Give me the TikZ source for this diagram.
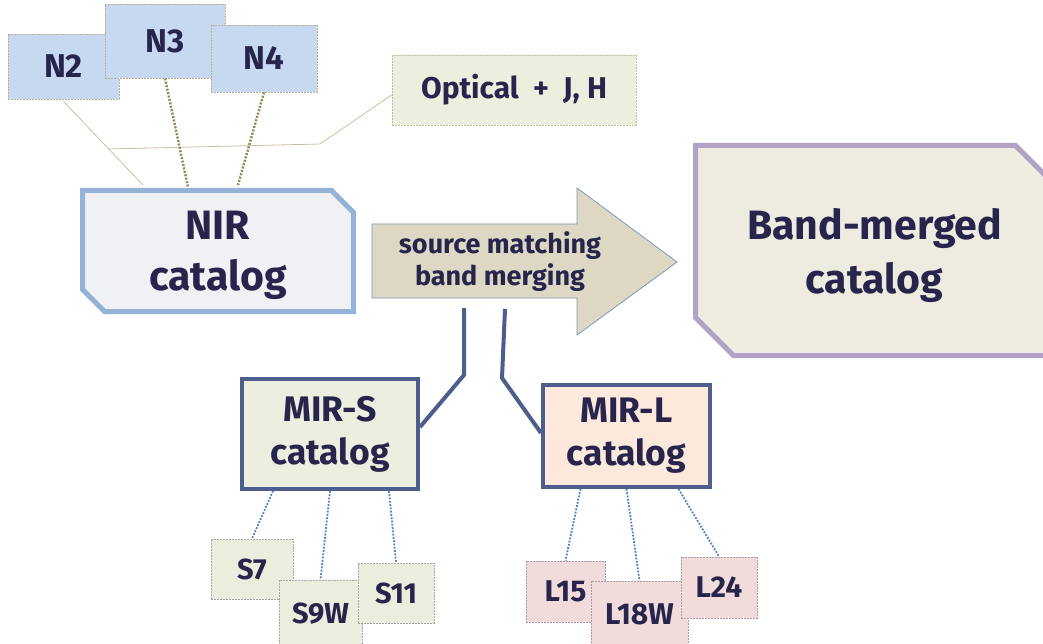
\documentclass[tikz,border=0pt]{standalone}
\usepackage{fontspec}
\setmainfont{Fira Sans}
\usetikzlibrary{shapes.misc}

\definecolor{ink}{RGB}{40,37,77}
\definecolor{nfill}{RGB}{198,217,241}
\definecolor{nedge}{RGB}{185,178,150}
\definecolor{optfill}{RGB}{235,239,221}
\definecolor{optedge}{RGB}{196,189,151}
\definecolor{nirfill}{RGB}{239,241,244}
\definecolor{niredge}{RGB}{149,179,215}
\definecolor{arrowfill}{RGB}{221,216,196}
\definecolor{arrowedge}{RGB}{132,151,176}
\definecolor{bandfill}{RGB}{238,236,225}
\definecolor{bandedge}{RGB}{179,162,199}
\definecolor{mirsfill}{RGB}{236,239,223}
\definecolor{mirlfill}{RGB}{253,233,219}
\definecolor{miredge}{RGB}{77,94,140}
\definecolor{sfill}{RGB}{235,238,220}
\definecolor{sedge}{RGB}{166,166,166}
\definecolor{lfill}{RGB}{242,220,219}
\definecolor{ledge}{RGB}{168,156,168}
\definecolor{tanline}{RGB}{201,191,160}
\definecolor{dotbrown}{RGB}{148,138,84}
\definecolor{dotblue}{RGB}{79,129,189}

\begin{document}
\begin{tikzpicture}[x=1pt,y=-1pt,
    lbl/.style={text=ink,font=\bfseries,align=center,inner sep=0pt},
    thinbox/.style={lbl,line width=.8pt,dash pattern=on 2pt off 1pt},
    nbox/.style={thinbox,draw=nedge,fill=nfill,font=\fontsize{33}{38}\selectfont\bfseries},
    sbox/.style={thinbox,draw=sedge,fill=sfill,font=\fontsize{29}{34}\selectfont\bfseries},
    lbox/.style={thinbox,draw=ledge,fill=lfill,font=\fontsize{30}{34}\selectfont\bfseries},
    catbox/.style={lbl,chamfered rectangle,chamfered rectangle corners={north east,south west},
      line width=5pt,text depth=0pt},
    mirbox/.style={lbl,draw=miredge,line width=4pt,font=\fontsize{35.5}{43}\selectfont\bfseries},
    thinlink/.style={draw=tanline,line width=.8pt},
    dotlink/.style={draw=dotbrown,line width=2.5pt,dash pattern=on 2pt off 1.5pt},
    bluelink/.style={draw=dotblue,line width=1.8pt,dash pattern=on 1.8pt off 1.5pt},
    link/.style={draw=miredge,line width=4pt}]
    \useasboundingbox (0,0) rectangle (1043,644);

    \node[nbox,minimum width=111,minimum height=65] (n2) at (63.5,66.5) {N2};
    \node[nbox,minimum width=120,minimum height=74] (n3) at (165,41) {N3};
    \node[nbox,minimum width=106,minimum height=67] (n4) at (264,58.5) {N4};
    \node[thinbox,draw=optedge,fill=optfill,minimum width=244,minimum height=70,
      font=\fontsize{30}{35}\selectfont\bfseries] (opt) at (514,90) {Optical\ \ +\ \ J,\ H};

    \node[catbox,draw=niredge,fill=nirfill,chamfered rectangle xsep=11pt,chamfered rectangle ysep=11pt,
      minimum width=271,minimum height=121,font=\fontsize{41}{51}\selectfont\bfseries] (nir) at (218,251) {NIR\\catalog};
    \node[catbox,draw=bandedge,fill=bandfill,chamfered rectangle xsep=19pt,chamfered rectangle ysep=19pt,
      minimum width=358,minimum height=210,font=\fontsize{41}{54}\selectfont\bfseries] (band) at (874.5,250.5) {Band-merged\\catalog};

    \draw[draw=arrowedge,fill=arrowfill,line width=.8pt] (372,224) -- (577,224) -- (577,188) -- (677,262)
      -- (577,335) -- (577,298) -- (372,298) -- cycle;
    \node[lbl,font=\fontsize{27}{32}\selectfont\bfseries] (merge) at (500,262) {source matching\\band merging};

    \node[mirbox,fill=mirsfill,minimum width=176,minimum height=110] (mirs) at (330,434) {MIR-S\\catalog};
    \node[mirbox,fill=mirlfill,minimum width=167,minimum height=102] (mirl) at (626.5,436) {MIR-L\\catalog};

    \node[sbox,minimum width=82,minimum height=60] (s7) at (252,569) {S7};
    \node[sbox,minimum width=83,minimum height=68] (s9w) at (320.5,614) {S9W};
    \node[sbox,minimum width=76,minimum height=60] (s11) at (396,593) {S11};

    \node[lbox,minimum width=79,minimum height=61] (l15) at (565.5,591.5) {L15};
    \node[lbox,minimum width=97,minimum height=67] (l18w) at (639.5,614.5) {L18W};
    \node[lbox,minimum width=76,minimum height=61] (l24) at (719,587.5) {L24};

    \coordinate (optend) at (108,149);
    \coordinate (mergeS) at (464,308);
    \coordinate (mergeL) at (505,309);

    \draw[thinlink] ([yshift=-2]n2.south) -- ([xshift=63,yshift=3]nir.north west);
    \draw[thinlink] ([yshift=-5]opt.west) -- (320,144) -- (optend);
    \draw[dotlink] (n3.south) -- ([xshift=108,yshift=1]nir.north west);
    \draw[dotlink] (n4.south) -- ([xshift=158,yshift=3]nir.north west);

    \draw[link] (mergeS) -- (464,375) -- ([yshift=7]mirs.east);
    \draw[link] (mergeL) -- (502,378) -- ([yshift=3]mirl.west);

    \draw[bluelink] ([xshift=-57]mirs.south) -- (s7.north);
    \draw[bluelink] (mirs.south) -- (s9w.north);
    \draw[bluelink] ([xshift=59]mirs.south) -- (s11.north);
    \draw[bluelink] ([xshift=-46]mirl.south) -- (l15.north);
    \draw[bluelink] (mirl.south) -- (l18w.north);
    \draw[bluelink] ([xshift=52]mirl.south) -- (l24.north);
  \end{tikzpicture}
\end{document}
